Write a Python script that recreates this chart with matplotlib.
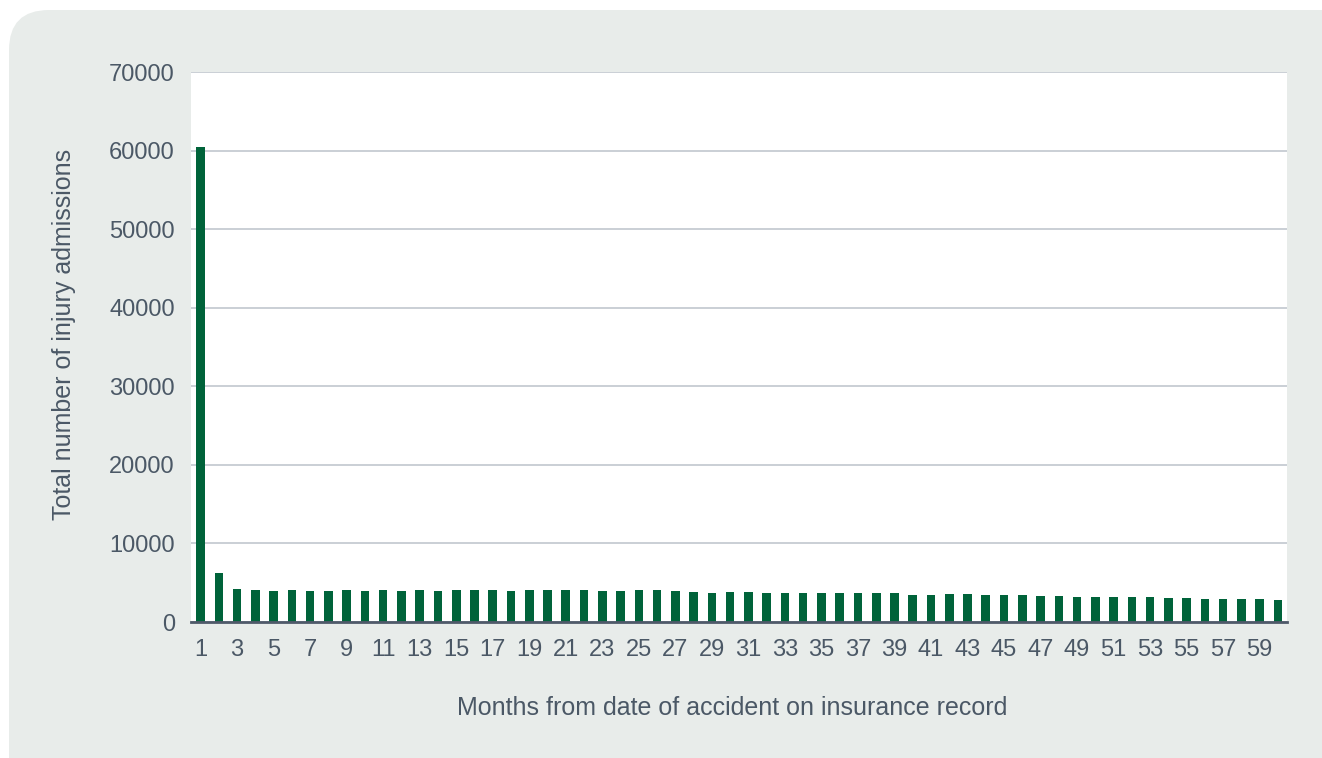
#!/usr/bin/env python3

import numpy as np
import matplotlib.pyplot as plt
from matplotlib.patches import FancyBboxPatch

plt.rcParams['font.family'] = ['Liberation Sans', 'DejaVu Sans']

months = np.arange(1, 61)
admissions = [
    60400, 6190, 4240, 4110, 3990, 4070, 3990, 3990, 4070, 3940,
    4030, 3900, 4070, 3900, 4030, 4110, 4110, 3990, 4110, 4110,
    4070, 4110, 3990, 3990, 4070, 4070, 3990, 3860, 3690, 3820,
    3860, 3690, 3730, 3650, 3690, 3650, 3650, 3650, 3650, 3480,
    3390, 3520, 3600, 3480, 3390, 3430, 3310, 3350, 3180, 3180,
    3140, 3180, 3220, 3050, 3050, 2930, 2970, 2930, 2970, 2840,
]
yticks = [0, 10000, 20000, 30000, 40000, 50000, 60000, 70000]
xticks = list(range(1, 60, 2))

text_col = '#4b5866'
bar_col = '#00633a'

fig = plt.figure(figsize=(13.22, 7.58), dpi=100)
fig.patch.set_facecolor('white')

# light panel with rounded top-left corner
panel = FancyBboxPatch((0.09, -0.6), 13.6, 7.48 + 0.6,
                       boxstyle='round,pad=0,rounding_size=0.4',
                       transform=fig.dpi_scale_trans,
                       facecolor='#e8ecea', edgecolor='none', zorder=-1)
fig.patches.append(panel)

ax = fig.add_axes([0.1448, 0.1794, 0.8288, 0.7256])
ax.set_zorder(1)
ax.set_facecolor('white')
ax.bar(months, admissions, width=0.47, color=bar_col, zorder=3)

ax.set_xlim(0.5, 60.5)
ax.set_ylim(0, 70000)
ax.set_yticks(yticks)
ax.set_xticks(xticks)
ax.grid(axis='y', color='#c6ccd2', linewidth=1.3, zorder=0)

for s in ['top', 'right', 'left']:
    ax.spines[s].set_visible(False)
ax.spines['bottom'].set_color('#4f5a6a')
ax.spines['bottom'].set_linewidth(2)
ax.spines['bottom'].set_zorder(4)

ax.tick_params(axis='y', length=0, pad=12, labelsize=17, labelcolor=text_col)
ax.tick_params(axis='x', length=0, pad=12, labelsize=17, labelcolor=text_col)

xl = ax.set_xlabel('Months from date of accident on insurance record',
                   fontsize=18, color=text_col, va='center')
yl = ax.set_ylabel('Total number of injury admissions',
                   fontsize=18, color=text_col, va='center')
ax.xaxis.set_label_coords(0.4934, -0.156)
ax.yaxis.set_label_coords(-0.1163, 0.522)

fig.savefig('out.png', dpi=100)
